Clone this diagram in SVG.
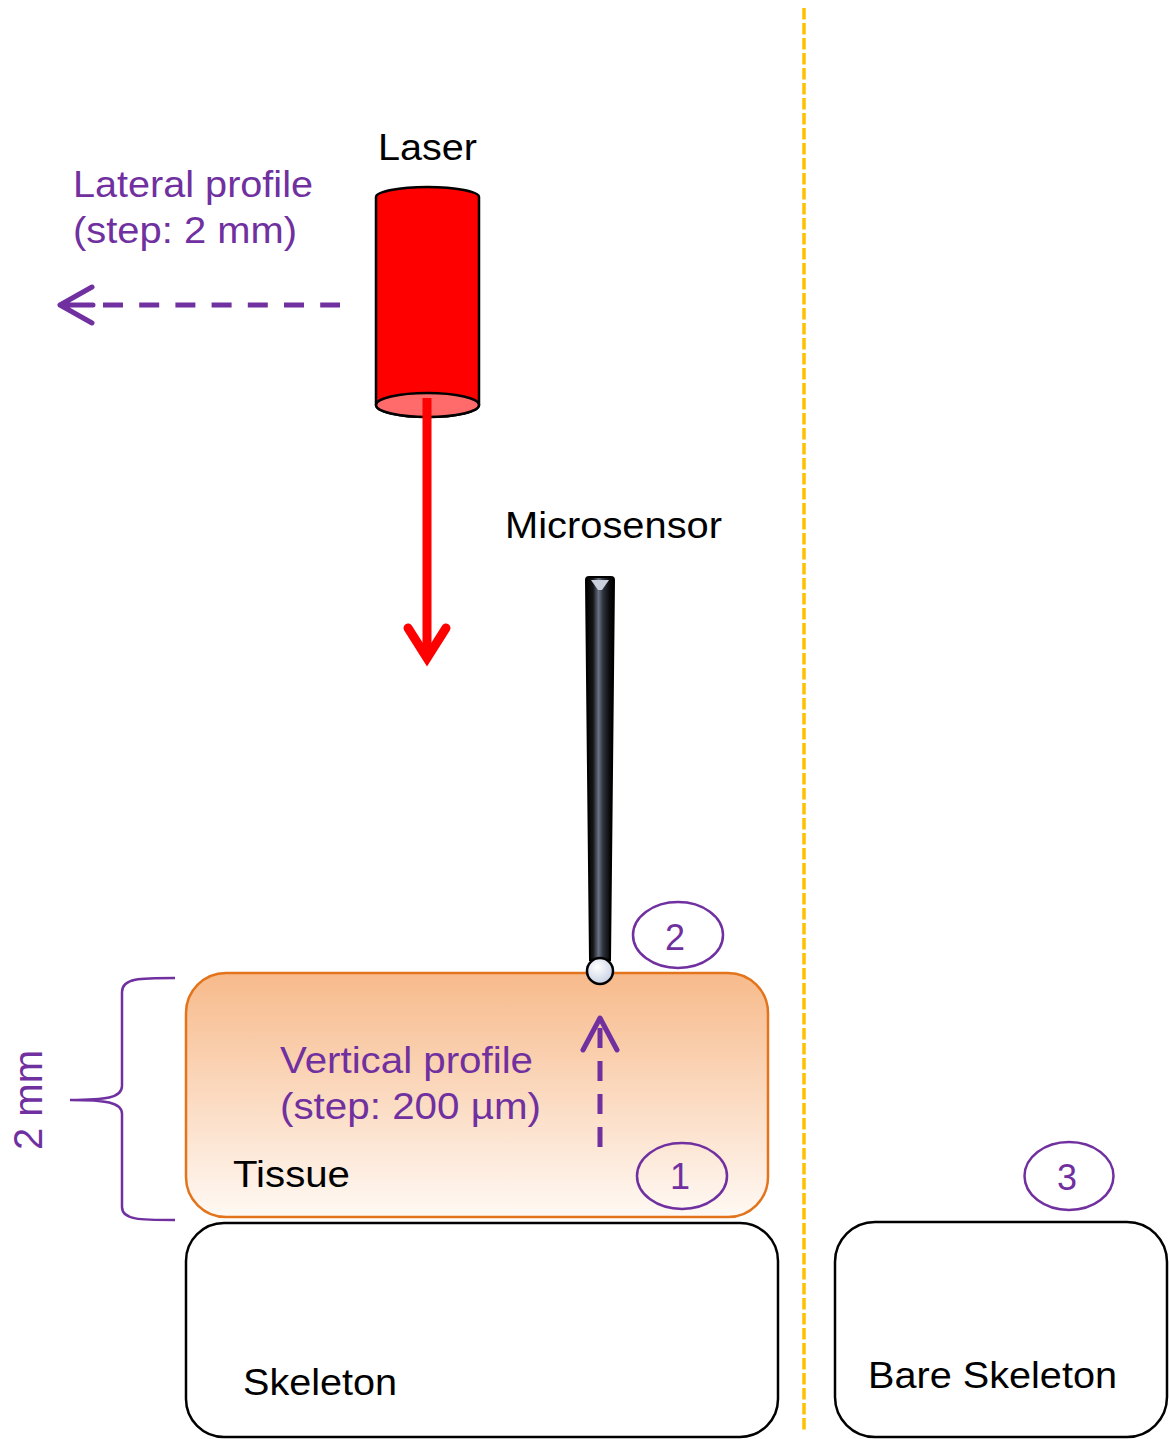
<svg xmlns="http://www.w3.org/2000/svg" width="1169" height="1439" viewBox="0 0 1169 1439">
<style>
.lbl{font-family:"Liberation Sans",Arial,sans-serif;font-size:36px;fill:#000}
.pur{fill:#7030A0}
.num{font-family:"Liberation Sans",Arial,sans-serif;font-size:36px;fill:#7030A0;text-anchor:middle}
.circ{fill:none;stroke:#7030A0;stroke-width:2.5}
.box{fill:#fff;stroke:#000;stroke-width:2.5}
.parrow{fill:none;stroke:#7030A0;stroke-width:5}
</style>
<defs>
<linearGradient id="tissueGrad" x1="0" y1="0" x2="0" y2="1">
<stop offset="0" stop-color="#F7BA8B"/>
<stop offset="1" stop-color="#FFF9F4"/>
</linearGradient>
<linearGradient id="rodGrad" x1="0" y1="0" x2="1" y2="0">
<stop offset="0" stop-color="#000"/>
<stop offset="0.25" stop-color="#141518"/>
<stop offset="0.45" stop-color="#6a7385"/>
<stop offset="0.6" stop-color="#30353e"/>
<stop offset="0.85" stop-color="#08090b"/>
<stop offset="1" stop-color="#000"/>
</linearGradient>
<radialGradient id="ballGrad" cx="0.4" cy="0.35" r="0.7">
<stop offset="0" stop-color="#ffffff"/>
<stop offset="1" stop-color="#c5cfe3"/>
</radialGradient>
</defs>
<rect width="1169" height="1439" fill="#fff"/>

<!-- separator -->
<line x1="804" y1="8" x2="804" y2="1432" stroke="#FFC000" stroke-width="3.5" stroke-dasharray="11.5 3.5"/>

<g id="laser">
<path d="M376,197 L376,405 A51.5,12 0 0 0 479,405 L479,197 A51.5,10 0 0 0 376,197 Z" fill="#FF0000" stroke="#000" stroke-width="2.5"/>
<ellipse cx="427.5" cy="405" rx="51.5" ry="12" fill="#FF6B6B" stroke="#000" stroke-width="2.5"/>
<text class="lbl" x="378" y="160" textLength="99" lengthAdjust="spacingAndGlyphs">Laser</text>
</g>

<g id="lateral-label">
<text class="lbl pur" x="73" y="197" textLength="240" lengthAdjust="spacingAndGlyphs">Lateral profile</text>
<text class="lbl pur" x="73" y="243" textLength="224" lengthAdjust="spacingAndGlyphs">(step: 2 mm)</text>
</g>

<g id="tissue">
<rect x="186" y="973" width="582" height="244" rx="40" fill="url(#tissueGrad)" stroke="#E3741B" stroke-width="2.5"/>
<text class="lbl pur" x="280" y="1073" textLength="253" lengthAdjust="spacingAndGlyphs">Vertical profile</text>
<text class="lbl pur" x="280" y="1119" textLength="261" lengthAdjust="spacingAndGlyphs">(step: 200 µm)</text>
<text class="lbl" x="233" y="1187" textLength="117" lengthAdjust="spacingAndGlyphs">Tissue</text>
</g>

<g id="microsensor">
<path d="M589,577 L611,577 Q614,577 614,580 L610,960 L590,960 L586,580 Q586,577 589,577 Z" fill="url(#rodGrad)" stroke="#000" stroke-width="2"/>
<path d="M591,580 L609,580 L602,590 L598,590 Z" fill="#c9d0dc"/>
<circle cx="600" cy="971" r="13" fill="url(#ballGrad)" stroke="#000" stroke-width="2.5"/>
<text class="lbl" x="505" y="538" textLength="217" lengthAdjust="spacingAndGlyphs">Microsensor</text>
</g>

<g id="skeleton">
<rect x="186" y="1223" width="592" height="214" rx="38" class="box"/>
<text class="lbl" x="243" y="1395" textLength="154" lengthAdjust="spacingAndGlyphs">Skeleton</text>
</g>

<g id="bare-skeleton">
<rect x="835" y="1222" width="332" height="215" rx="40" class="box"/>
<text class="lbl" x="868" y="1388" textLength="249" lengthAdjust="spacingAndGlyphs">Bare Skeleton</text>
</g>

<g id="marker-1">
<ellipse cx="682" cy="1176" rx="45" ry="33" class="circ"/>
<text class="num" x="680" y="1189">1</text>
</g>
<g id="marker-2">
<ellipse cx="678" cy="935" rx="45" ry="33" class="circ"/>
<text class="num" x="675" y="950">2</text>
</g>
<g id="marker-3">
<ellipse cx="1069" cy="1176" rx="44.5" ry="34" class="circ"/>
<text class="num" x="1067" y="1190">3</text>
</g>

<g id="scale-2mm">
<path d="M175,978 C140,978 122,978 122,992 L122,1086 C122,1098 105,1100 70,1100 C105,1100 122,1102 122,1114 L122,1207 C122,1220 140,1220 175,1220" fill="none" stroke="#7030A0" stroke-width="2.5"/>
<text class="pur" font-family="Liberation Sans, Arial, sans-serif" font-size="40" text-anchor="middle" transform="translate(42,1100) rotate(-90)">2 mm</text>
</g>

<g id="connectors">
<line x1="427" y1="398" x2="427" y2="656" stroke="#FF0000" stroke-width="9"/>
<path d="M408,628 L427,658 L446,628" fill="none" stroke="#FF0000" stroke-width="9" stroke-linecap="round" stroke-linejoin="miter"/>
<line x1="103" y1="305" x2="340" y2="305" class="parrow" stroke-dasharray="20 16.2"/>
<path d="M92,287 L60,305 L92,323 M60,305 L93,305" class="parrow" stroke-linecap="round" stroke-linejoin="round"/>
<line x1="600" y1="1147" x2="600" y2="1020" class="parrow" stroke-dasharray="20 13"/>
<path d="M583,1050 L600,1018 L617,1050" class="parrow" stroke-linecap="round" stroke-linejoin="round"/>
</g>
</svg>
